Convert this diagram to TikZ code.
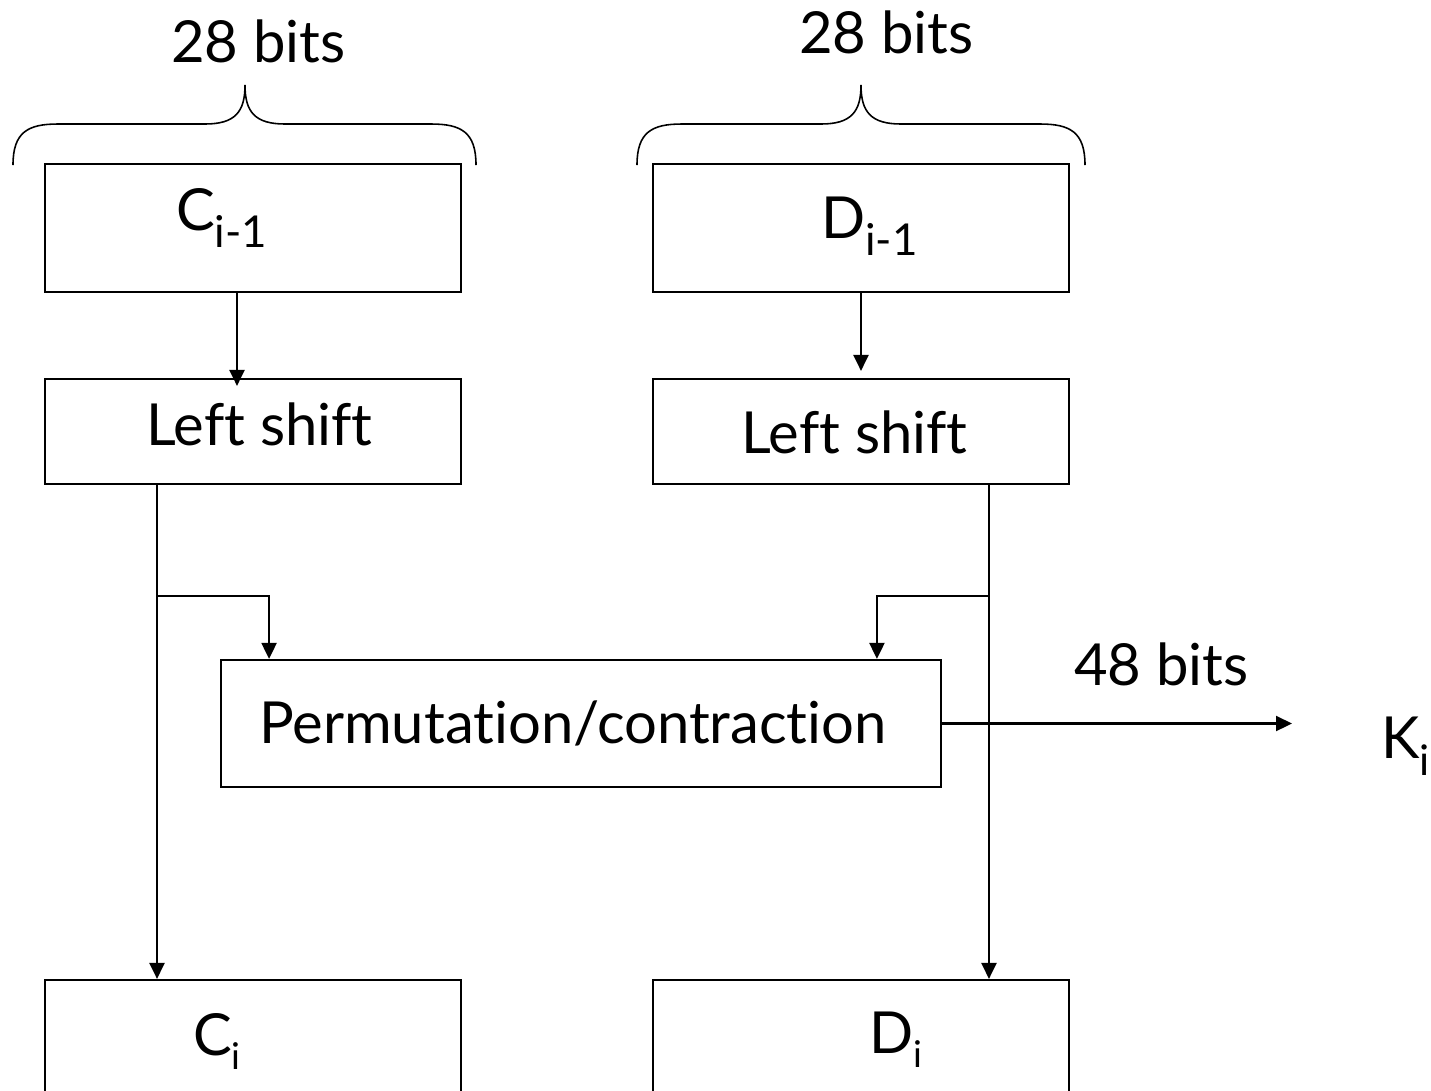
\documentclass[tikz,border=0pt]{standalone}
\usepackage{fontspec}
\setmainfont{Lato}[Ligatures=NoCommon]
\usetikzlibrary{arrows.meta,positioning,calc}
\newcommand{\lowsub}[3]{\raisebox{-#1}{\fontsize{#2}{#2}\selectfont #3}}

\begin{document}
\begin{tikzpicture}[x=0.02cm,y=-0.02cm,line width=1.25pt,
  >={Triangle[length=0.32cm,width=0.3cm]},
  box/.style={draw,inner sep=0pt,minimum width=8.32cm,minimum height=2.56cm},
  txt/.style={inner sep=0pt,anchor=base west,font=\fontsize{33}{36}\selectfont},
  brace/.style={line width=0.9pt}]
\useasboundingbox (0,0) rectangle (1431,1090);
% boxes
\node[box] (cprev) at (253,228) {};
\node[box] (dprev) at (861,228) {};
\node[box,minimum height=2.1cm] (lsl) at (253,431.5) {};
\node[box,minimum height=2.1cm] (lsr) at (861,431.5) {};
\node[box,minimum width=14.4cm,minimum height=2.54cm] (perm) at (581,723.5) {};
\node[box] (ci) at (253,1044) {};
\node[box] (di) at (861,1044) {};
% texts
\node[txt] (cprevt) at (175,230) {C\lowsub{10pt}{25}{i-1}};
\node[txt] (dprevt) at (820,238) {D\lowsub{10pt}{25}{i-1}};
\node[txt] (lslt) at (145,445) {Left shift};
\node[txt] (lsrt) at (740,453) {Left shift};
\node[txt] (permt) at (258,743) {Permutation/contraction};
\node[txt] (cit) at (192,1055) {C\lowsub{8pt}{21}{i}};
\node[txt] (dit) at (868,1053) {D\lowsub{8pt}{21}{i}};
\node[txt] (kit) at (1380,758) {K\lowsub{10pt}{24}{i}};
\node[txt] (bitsl) at (170,62) {28 bits};
\node[txt] (bitsr) at (798,53) {28 bits};
\node[txt] (bitsk) at (1073,685) {48 bits};
% braces
\foreach \l/\t/\r in {13/245/476,637/861/1085}
  \draw[brace] (\l,165) .. controls (\l,132) and (\l+15,124) .. (\l+45,124)
    -- (\t-40,124) .. controls (\t-10,124) and (\t,112) .. (\t,85)
    .. controls (\t,112) and (\t+10,124) .. (\t+40,124)
    -- (\r-45,124) .. controls (\r-15,124) and (\r,132) .. (\r,165);
% connectors
\coordinate (bl) at (157,596);
\coordinate (br) at (989,596);
\coordinate (kend) at (1292,723.5);
\draw[->] ([xshift=-0.32cm]cprev.south) -- ([xshift=-0.32cm,yshift=-0.16cm]lsl.north);
\draw[->] (dprev.south) -- ([yshift=0.14cm]lsr.north);
\draw[->] ([xshift=-1.92cm]lsl.south) -- ([xshift=-1.92cm]ci.north);
\draw[->] ([xshift=2.56cm]lsr.south) -- ([xshift=2.56cm]di.north);
\draw[->] (bl) -| ([xshift=-6.24cm]perm.north);
\draw[->] (br) -| ([xshift=5.92cm]perm.north);
\draw[->] (perm.east) -- (kend);
\end{tikzpicture}
\end{document}
